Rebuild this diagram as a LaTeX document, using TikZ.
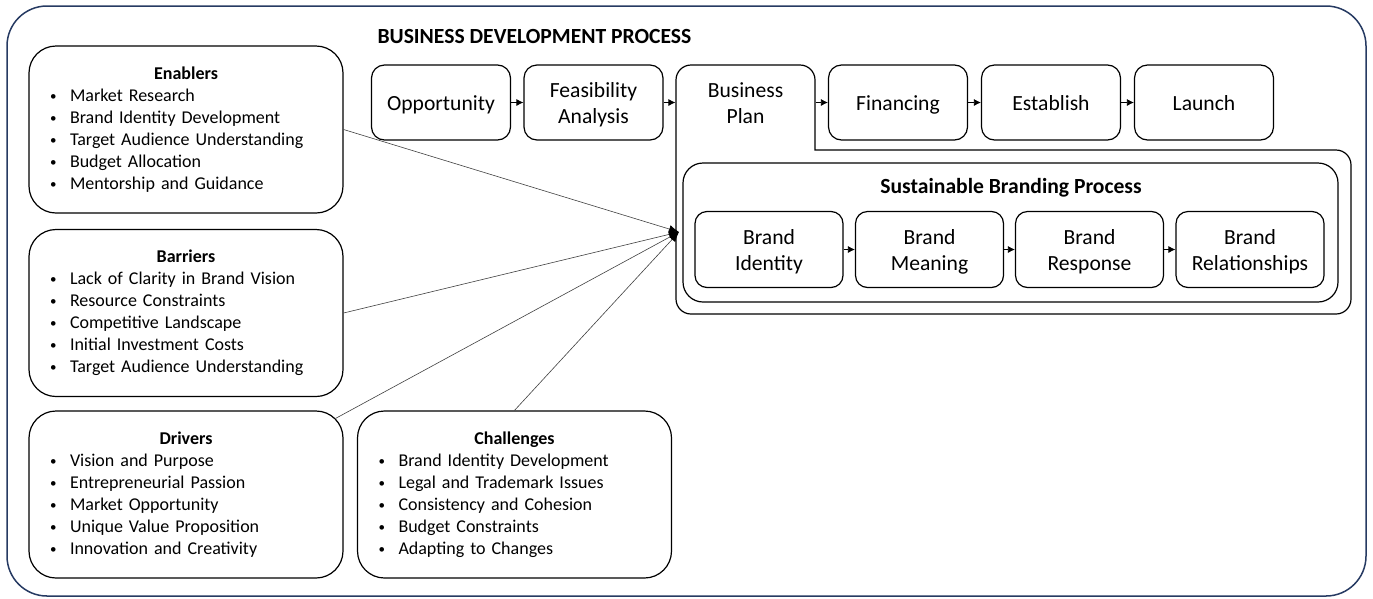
\documentclass[tikz,border=0pt]{standalone}
\usepackage{fontspec}
\setmainfont{Carlito}
\usepackage{tikz}
\usepackage{xcolor}
\usetikzlibrary{arrows.meta,calc}
\definecolor{framenavy}{RGB}{38,58,98}
\newcommand{\blt}{\makebox[20pt][l]{\raisebox{1pt}{\fontsize{13}{13}\selectfont\textbullet}}}
\newcommand{\listhead}[1]{\makebox[\linewidth]{\textbf{#1}}}

\begin{document}
\begin{tikzpicture}[x=1pt, y=-1pt,
    listbox/.style={rectangle, draw, line width=1.2pt, rounded corners=27pt, minimum height=167pt,
        text width=272pt, inner xsep=21pt, align=left, font=\fontsize{18}{22}\selectfont},
    procbox/.style={rectangle, draw, line width=1.2pt, rounded corners=13pt, minimum width=139pt,
        minimum height=75pt, text width=128pt, align=center, font=\fontsize{21.6}{26}\selectfont,
        execute at begin node=\rule{0pt}{23pt}, execute at end node=\rule[-8pt]{0pt}{8pt}},
    brandbox/.style={procbox, rounded corners=12pt, minimum width=148pt, minimum height=76pt},
    flow/.style={-{Latex[length=7pt,width=7pt]}, line width=0.8pt},
    link/.style={-{Latex[length=10pt,width=8pt,black]}, line width=0.6pt, draw=black!75}]

    \useasboundingbox (0,0) rectangle (1373,598);

    % Frame
    \draw[framenavy, line width=1.5pt, rounded corners=40pt] (7,6) rectangle (1366,596);

    % Business development process
    \node[font=\fontsize{21.6}{26}\selectfont\bfseries, anchor=west] (bdptitle) at (374,36) {BUSINESS DEVELOPMENT PROCESS};

    \node[procbox] (opp) at (441,102.5) {Opportunity};
    \node[procbox] (feas) at (593.5,102.5) {Feasibility\\Analysis};
    \node[procbox, draw=none] (bplan) at (745.5,102.5) {Business\\Plan};
    \node[procbox] (fin) at (898,102.5) {Financing};
    \node[procbox] (est) at (1051,102.5) {Establish};
    \node[procbox] (launch) at (1204,102.5) {Launch};

    % Business plan outline (tab + body)
    \draw[line width=1.2pt, rounded corners=15pt, line cap=rect] (815,150) -- (1351,150) -- (1351,314)
        -- (676,314) -- (676,65) -- (815,65) -- (815,150);
    \coordinate (bpin) at (679,232);

    % Sustainable branding process
    \node[draw, line width=1.2pt, rounded corners=20pt, minimum width=655pt, minimum height=139pt] (sbp) at (1010.5,232.5) {};
    \node[font=\fontsize{21.6}{26}\selectfont\bfseries] (sbptitle) at (1011,188) {Sustainable Branding Process};

    \node[brandbox] (bident) at (769,249.5) {Brand\\Identity};
    \node[brandbox] (bmean) at (929.5,249.5) {Brand\\Meaning};
    \node[brandbox] (bresp) at (1089.5,249.5) {Brand\\Response};
    \node[brandbox] (brel) at (1250,249.5) {Brand\\Relationships};

    % Factors
    \node[listbox] (enablers) at (186,129.5) {\listhead{Enablers}\\
        \blt Market Research\\
        \blt Brand Identity Development\\
        \blt Target Audience Understanding\\
        \blt Budget Allocation\\
        \blt Mentorship and Guidance};
    \node[listbox] (barriers) at (186,313) {\listhead{Barriers}\\
        \blt Lack of Clarity in Brand Vision\\
        \blt Resource Constraints\\
        \blt Competitive Landscape\\
        \blt Initial Investment Costs\\
        \blt Target Audience Understanding};
    \node[listbox] (drivers) at (186,494.5) {\listhead{Drivers}\\
        \blt Vision and Purpose\\
        \blt Entrepreneurial Passion\\
        \blt Market Opportunity\\
        \blt Unique Value Proposition\\
        \blt Innovation and Creativity};
    \node[listbox] (challenges) at (514.5,494.5) {\listhead{Challenges}\\
        \blt Brand Identity Development\\
        \blt Legal and Trademark Issues\\
        \blt Consistency and Cohesion\\
        \blt Budget Constraints\\
        \blt Adapting to Changes};

    % Arrows
    \draw[flow] (opp) -- (feas);
    \draw[flow] (feas) -- (bplan);
    \draw[flow] (bplan) -- (fin);
    \draw[flow] (fin) -- (est);
    \draw[flow] (est) -- (launch);
    \draw[flow] (bident) -- (bmean);
    \draw[flow] (bmean) -- (bresp);
    \draw[flow] (bresp) -- (brel);

    % Factors into the business plan
    \draw[link] (enablers.east) -- (bpin);
    \draw[link] (barriers.east) -- (bpin);
    \draw[link] ($(drivers.north east)+(-8,8)$) -- (bpin);
    \draw[link] (challenges.north) -- (bpin);

\end{tikzpicture}
\end{document}
